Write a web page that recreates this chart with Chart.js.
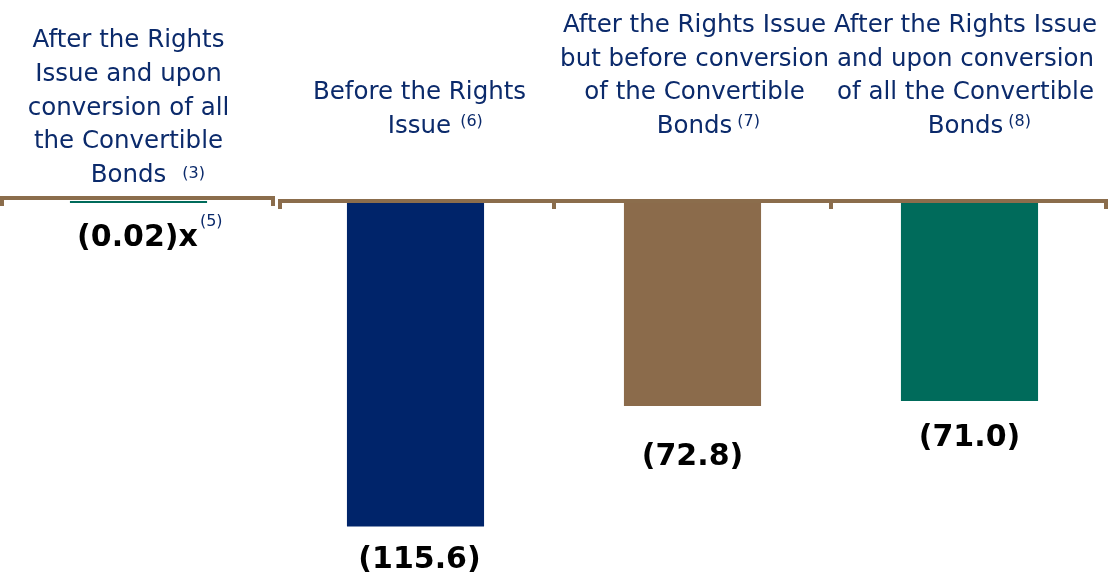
<!DOCTYPE html>
<html>
<head>
<meta charset="utf-8">
<script src="https://cdn.jsdelivr.net/npm/chart.js@4"></script>
<style>
  html, body { margin: 0; padding: 0; background: #ffffff; }
  #wrap { width: 1114px; height: 584px; position: relative; }
</style>
</head>
<body>
<div id="wrap"><canvas id="c"></canvas></div>
<script>
// ---- data ----
const categories = [
  ["After the Rights", "Issue and upon", "conversion of all", "the Convertible", "Bonds"],
  ["Before the Rights", "Issue"],
  ["After the Rights Issue", "but before conversion", "of the Convertible", "Bonds"],
  ["After the Rights Issue", "and upon conversion", "of all the Convertible", "Bonds"]
];
const categoryNotes = ["(3)", "(6)", "(7)", "(8)"];
const values = [-0.02, -115.6, -72.8, -71.0];
const valueLabels = ["(0.02)x", "(115.6)", "(72.8)", "(71.0)"];
const valueNotes = ["(5)", "", "", ""];

// ---- styles ----
const barColors = ["#006B5B", "#00246A", "#8B6B4B", "#006B5B"];
const axisColor = "#8B6D4C";
const textColor = "#0B2A6B";
const labelDx = [-10, 4, 2, -4];
const labelGap = [19, 68, 68, 68];
const noteGap = [16, 9, 5, 5];
const noteRaise = [4, 7, 7, 7];
const valueDx = [-1, 4, 0, 0];
const valueDy = [35, 34, 51, 37];
const groups = [[0, 1, 3], [1, 4, 0]]; // [first, end, raise]

const annotate = {
  id: 'annotate',
  afterDatasetsDraw(chart) {
    const ctx = chart.ctx;
    const xs = chart.scales.x, ys = chart.scales.y;
    const n = categories.length;
    const w = xs.width / n;
    const y0 = ys.getPixelForValue(0);
    ctx.save();
    // axis brackets
    ctx.strokeStyle = axisColor;
    ctx.lineWidth = 4;
    groups.forEach(([g0, g1, raise]) => {
      const left = xs.getPixelForValue(g0) - w / 2 + (g0 > 0 ? 1 : 0);
      const right = xs.getPixelForValue(g1 - 1) + w / 2 - (g1 < n ? 2 : 0);
      const ly = y0 - raise;
      ctx.beginPath();
      ctx.moveTo(left, ly); ctx.lineTo(right, ly);
      ctx.stroke();
      const ticks = [left + 2];
      for (let k = g0 + 1; k < g1; k++) ticks.push(xs.getPixelForValue(k) - w / 2);
      ticks.push(right - 2);
      ticks.forEach(tx => {
        ctx.beginPath();
        ctx.moveTo(tx, ly - 2); ctx.lineTo(tx, ly + 8);
        ctx.stroke();
      });
    });
    // category labels
    ctx.fillStyle = textColor;
    categories.forEach((lines, i) => {
      const cx = xs.getPixelForValue(i) + labelDx[i];
      const last = y0 - labelGap[i];
      ctx.font = '24.5px "DejaVu Sans"';
      ctx.textAlign = 'center';
      ctx.textBaseline = 'alphabetic';
      lines.forEach((t, j) => {
        ctx.fillText(t, cx, last - (lines.length - 1 - j) * 33.7);
      });
      const lw = ctx.measureText(lines[lines.length - 1]).width;
      ctx.font = '16px "DejaVu Sans"';
      ctx.textAlign = 'left';
      ctx.fillText(categoryNotes[i], cx + lw / 2 + noteGap[i], last - noteRaise[i]);
    });
    // value labels
    const meta = chart.getDatasetMeta(0);
    meta.data.forEach((el, i) => {
      const cx = el.x + valueDx[i];
      const cy = el.y + valueDy[i];
      ctx.font = 'bold 30px "DejaVu Sans"';
      ctx.textAlign = 'center';
      ctx.textBaseline = 'middle';
      ctx.fillStyle = '#000000';
      ctx.fillText(valueLabels[i], cx, cy);
      if (valueNotes[i]) {
        const vw = ctx.measureText(valueLabels[i]).width;
        ctx.font = '16px "DejaVu Sans"';
        ctx.textAlign = 'left';
        ctx.fillStyle = textColor;
        ctx.fillText(valueNotes[i], cx + vw / 2 + 2, cy - 16);
      }
    });
    ctx.restore();
  }
};

new Chart(document.getElementById('c'), {
  type: 'bar',
  data: {
    labels: categories,
    datasets: [{
      data: values,
      backgroundColor: barColors,
      borderWidth: 0,
      barPercentage: 0.495,
      categoryPercentage: 1.0,
      minBarLength: 2
    }]
  },
  options: {
    responsive: true,
    maintainAspectRatio: false,
    devicePixelRatio: 1,
    animation: false,
    layout: { padding: { top: 201, left: 0, right: 6, bottom: 0 } },
    plugins: { legend: { display: false }, tooltip: { enabled: false } },
    scales: {
      x: { display: false },
      y: { display: false, min: -136, max: 0 }
    }
  },
  plugins: [annotate]
});
</script>
</body>
</html>
